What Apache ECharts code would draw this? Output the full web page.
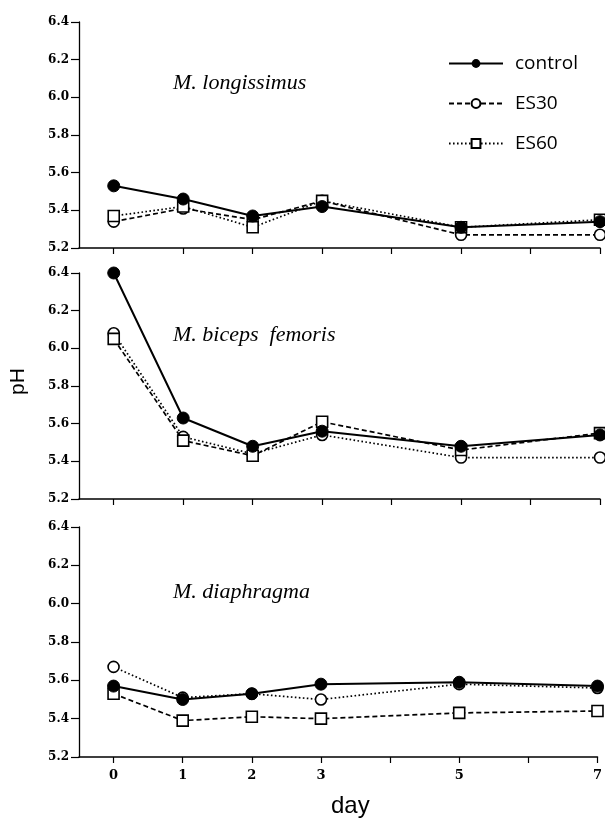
<!DOCTYPE html>
<html>
<head>
<meta charset="utf-8">
<script src="https://cdn.jsdelivr.net/npm/echarts@6/dist/echarts.min.js"></script>
<style>
  html, body { margin: 0; padding: 0; background: #fff; }
  #chart { width: 605px; height: 822px; }
</style>
</head>
<body>
<div id="chart"></div>
<script>
// ---- data ----
const days = [0, 1, 2, 3, 5, 7];
const dayTicks = [0, 1, 2, 3, 4, 5, 6, 7];
const dayLabels = [0, 1, 2, 3, 5, 7];
const yTicks = [5.2, 5.4, 5.6, 5.8, 6.0, 6.2, 6.4];

const panelNames = ['M. longissimus', 'M. biceps  femoris', 'M. diaphragma'];

const longControl = [5.53, 5.46, 5.37, 5.42, 5.31, 5.34];
const longES30    = [5.34, 5.41, 5.35, 5.45, 5.27, 5.27];
const longES60    = [5.37, 5.42, 5.31, 5.45, 5.31, 5.35];

const bicControl  = [6.40, 5.63, 5.48, 5.56, 5.48, 5.54];
const bicES30     = [6.08, 5.53, 5.44, 5.54, 5.42, 5.42];
const bicES60     = [6.05, 5.51, 5.43, 5.61, 5.46, 5.55];

const diaControl  = [5.57, 5.50, 5.53, 5.58, 5.59, 5.57];
const diaES30     = [5.67, 5.51, 5.53, 5.50, 5.58, 5.56];
const diaES60     = [5.53, 5.39, 5.41, 5.40, 5.43, 5.44];

// ---- build ----
const DASHED = [5, 3];
const DOTTED = [1.6, 2.4];
const panels = [
  { control: longControl, es30: longES30, es60: longES60, es30Line: DASHED, es60Line: DOTTED },
  { control: bicControl,  es30: bicES30,  es60: bicES60,  es30Line: DOTTED, es60Line: DASHED },
  { control: diaControl,  es30: diaES30,  es60: diaES60,  es30Line: DOTTED, es60Line: DASHED }
];

const grids = [
  { left: 79, width: 521, top: 22,  height: 226 },
  { left: 79, width: 521, top: 273, height: 226 },
  { left: 79, width: 521, top: 527, height: 230 }
];

const pair = arr => days.map((d, i) => [d, arr[i]]);

const xAxes = grids.map((g, i) => ({
  type: 'value', gridIndex: i, min: -0.5, max: 7,
  splitLine: { show: false },
  axisLine: { show: true, onZero: false, lineStyle: { color: '#000', width: 1.5 } },
  axisTick: { show: true, customValues: dayTicks, length: 6, lineStyle: { color: '#000', width: 1.2 } },
  axisLabel: {
    show: i === 2, customValues: dayLabels, margin: 12,
    color: '#000', fontFamily: 'DejaVu Serif', fontWeight: 'bold', fontSize: 13
  }
}));

const yAxes = grids.map((g, i) => ({
  type: 'value', gridIndex: i, min: 5.2, max: 6.4,
  splitLine: { show: false },
  axisLine: { show: true, onZero: false, lineStyle: { color: '#000', width: 1.3 } },
  axisTick: { show: true, customValues: yTicks, length: 8, lineStyle: { color: '#000', width: 1.2 } },
  axisLabel: {
    customValues: yTicks, margin: 10,
    formatter: v => v.toFixed(1),
    color: '#000', fontFamily: 'DejaVu Serif', fontWeight: 'bold', fontSize: 12
  }
}));

const series = [];
panels.forEach((p, i) => {
  series.push({
    name: 'control', type: 'line', xAxisIndex: i, yAxisIndex: i, z: 5,
    data: pair(p.control), symbol: 'circle', symbolSize: 12, clip: false,
    lineStyle: { color: '#000', width: 2, type: 'solid' },
    itemStyle: { color: '#000', borderColor: '#000' }
  });
  series.push({
    name: 'ES30', type: 'line', xAxisIndex: i, yAxisIndex: i, z: 3,
    data: pair(p.es30), symbol: 'circle', symbolSize: 11, clip: false,
    lineStyle: { color: '#000', width: 1.7, type: p.es30Line },
    itemStyle: { color: '#fff', borderColor: '#000', borderWidth: 1.6 }
  });
  series.push({
    name: 'ES60', type: 'line', xAxisIndex: i, yAxisIndex: i, z: 4,
    data: pair(p.es60), symbol: 'rect', symbolSize: 11, clip: false,
    lineStyle: { color: '#000', width: 1.7, type: p.es60Line },
    itemStyle: { color: '#fff', borderColor: '#000', borderWidth: 1.6 }
  });
});

const titleTops = [72, 324, 581];
const graphics = panelNames.map((t, i) => ({
  type: 'text', left: 173, top: titleTops[i],
  style: { text: t, fill: '#000', font: 'italic 22px "Liberation Serif"' }
}));
graphics.push({
  type: 'text', x: 8, y: 395, rotation: Math.PI / 2,
  style: { text: 'pH', fill: '#000', font: '21px "Liberation Sans"' }
});
graphics.push({
  type: 'text', left: 331, top: 794,
  style: { text: 'day', fill: '#000', font: '24px "Liberation Sans"' }
});

const chart = echarts.init(document.getElementById('chart'), null, { renderer: 'canvas' });
chart.setOption({
  animation: false,
  backgroundColor: '#fff',
  grid: grids,
  xAxis: xAxes,
  yAxis: yAxes,
  series: series,
  legend: {
    data: ['control', 'ES30', 'ES60'],
    orient: 'vertical', left: 443, top: 49,
    itemWidth: 54, itemHeight: 11, itemGap: 21,
    textStyle: { color: '#000', fontSize: 19, fontFamily: 'Open Sans', lineHeight: 19, padding: [0, 0, 0, 7] }
  },
  graphic: graphics
});
</script>
</body>
</html>
